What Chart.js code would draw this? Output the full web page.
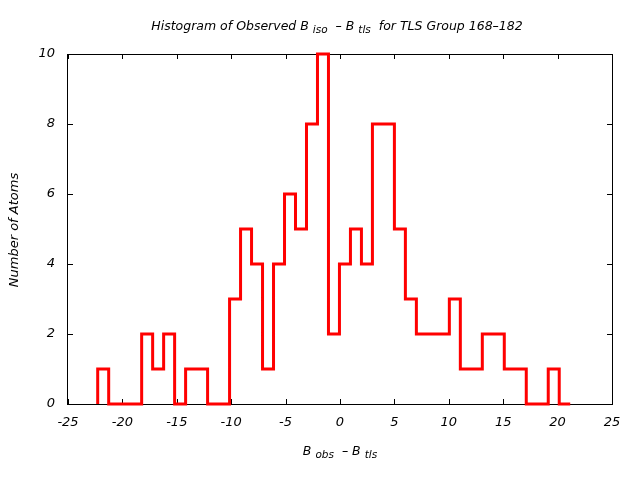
<!DOCTYPE html>
<html>
<head>
<meta charset="utf-8">
<script src="https://cdn.jsdelivr.net/npm/chart.js@4/dist/chart.umd.min.js"></script>
<style>
  html, body { margin: 0; padding: 0; background: #fff; }
  #wrap { width: 640px; height: 480px; }
</style>
</head>
<body>
<div id="wrap"><canvas id="chart" width="640" height="480"></canvas></div>
<script>
// bin edges (44 edges -> 43 bins)
const binEdges = [-22.27, -21.26, -20.25, -19.24, -18.23, -17.22, -16.21, -15.20, -14.19, -13.18,
  -12.17, -11.16, -10.15, -9.14, -8.13, -7.12, -6.11, -5.10, -4.09, -3.08,
  -2.07, -1.06, -0.05, 0.96, 1.97, 2.98, 3.99, 5.00, 6.01, 7.02,
  8.03, 9.04, 10.05, 11.06, 12.07, 13.08, 14.09, 15.10, 16.11, 17.12,
  18.13, 19.14, 20.15, 21.16];
// number of atoms in each bin
const counts = [1, 0, 0, 0, 2, 1, 2, 0, 1, 1,
  0, 0, 3, 5, 4, 1, 4, 6, 5, 8,
  10, 2, 4, 5, 4, 8, 8, 5, 3, 2,
  2, 2, 3, 1, 1, 2, 2, 1, 1, 0,
  0, 1, 0];
const xTicks = [-25, -20, -15, -10, -5, 0, 5, 10, 15, 20, 25];
const yTicks = [0, 2, 4, 6, 8, 10];

const titleParts = [['Histogram of Observed B ', 0], ['iso', 1], ['  \u2013 B ', 0], ['tls', 1], ['  for TLS Group 168\u2013182', 0]];
const xTitleParts = [['B ', 0], ['obs', 1], ['  \u2013 B ', 0], ['tls', 1]];
const yTitle = 'Number of Atoms';

// step outline points
const points = [{ x: binEdges[0], y: 0 }];
counts.forEach((c, i) => points.push({ x: binEdges[i], y: c }));
points.push({ x: binEdges[binEdges.length - 1], y: counts[counts.length - 1] });

const FONT = '"DejaVu Sans", sans-serif';

function drawRich(ctx, parts, cx, baseline, size, subSize) {
  let total = 0;
  parts.forEach(([t, sub]) => {
    ctx.font = 'italic ' + (sub ? subSize : size) + 'px ' + FONT;
    total += ctx.measureText(t).width;
  });
  let x = cx - total / 2;
  ctx.textAlign = 'left';
  ctx.textBaseline = 'alphabetic';
  parts.forEach(([t, sub]) => {
    ctx.font = 'italic ' + (sub ? subSize : size) + 'px ' + FONT;
    ctx.fillText(t, x, baseline + (sub ? 3 : 0));
    x += ctx.measureText(t).width;
  });
}

const framePlugin = {
  id: 'frame',
  beforeDatasetsDraw(chart) {
    const { ctx, chartArea: a, scales } = chart;
    ctx.save();
    ctx.strokeStyle = '#000';
    ctx.lineWidth = 1;
    ctx.strokeRect(Math.round(a.left) - 0.5, Math.round(a.top) + 0.5, Math.round(a.right - a.left) + 1, Math.round(a.bottom - a.top));
    ctx.beginPath();
    xTicks.forEach(v => {
      const px = Math.round(scales.x.getPixelForValue(v)) + 0.5;
      ctx.moveTo(px, a.bottom); ctx.lineTo(px, a.bottom - 5);
      ctx.moveTo(px, a.top); ctx.lineTo(px, a.top + 5);
    });
    yTicks.forEach(v => {
      const py = Math.round(scales.y.getPixelForValue(v)) + 0.5;
      ctx.moveTo(a.left, py); ctx.lineTo(a.left + 5, py);
      ctx.moveTo(a.right, py); ctx.lineTo(a.right - 5, py);
    });
    ctx.stroke();
    ctx.restore();
  },
  afterDraw(chart) {
    const { ctx } = chart;
    ctx.save();
    ctx.fillStyle = '#000';
    drawRich(ctx, titleParts, 337, 30, 12.5, 10.5);
    drawRich(ctx, xTitleParts, 340, 455, 12.5, 10.5);
    ctx.translate(18, 230);
    ctx.rotate(-Math.PI / 2);
    ctx.font = 'italic 13px ' + FONT;
    ctx.textAlign = 'center';
    ctx.textBaseline = 'alphabetic';
    ctx.fillText(yTitle, 0, 0);
    ctx.restore();
  }
};

new Chart(document.getElementById('chart'), {
  type: 'line',
  data: {
    datasets: [{
      data: points,
      stepped: 'before',
      borderColor: '#ff0000',
      borderWidth: 3,
      pointRadius: 0,
      fill: false,
      clip: 4
    }]
  },
  options: {
    responsive: false,
    animation: false,
    layout: { padding: { left: 0, right: 28, top: 54, bottom: 0 } },
    plugins: { legend: { display: false }, tooltip: { enabled: false }, title: { display: false } },
    scales: {
      x: {
        type: 'linear',
        min: -25, max: 25,
        afterFit: s => { s.height = 76; },
        afterBuildTicks: s => { s.ticks = xTicks.map(v => ({ value: v })); },
        grid: { display: false, drawTicks: false },
        border: { display: false },
        ticks: { color: '#000', padding: 11, maxRotation: 0, font: { family: FONT, size: 13, style: 'italic' } }
      },
      y: {
        min: 0, max: 10,
        afterFit: s => { s.width = 68; },
        afterBuildTicks: s => { s.ticks = yTicks.map(v => ({ value: v })); },
        grid: { display: false, drawTicks: false },
        border: { display: false },
        ticks: { color: '#000', padding: 13, font: { family: FONT, size: 13, style: 'italic' } }
      }
    }
  },
  plugins: [framePlugin]
});
</script>
</body>
</html>
